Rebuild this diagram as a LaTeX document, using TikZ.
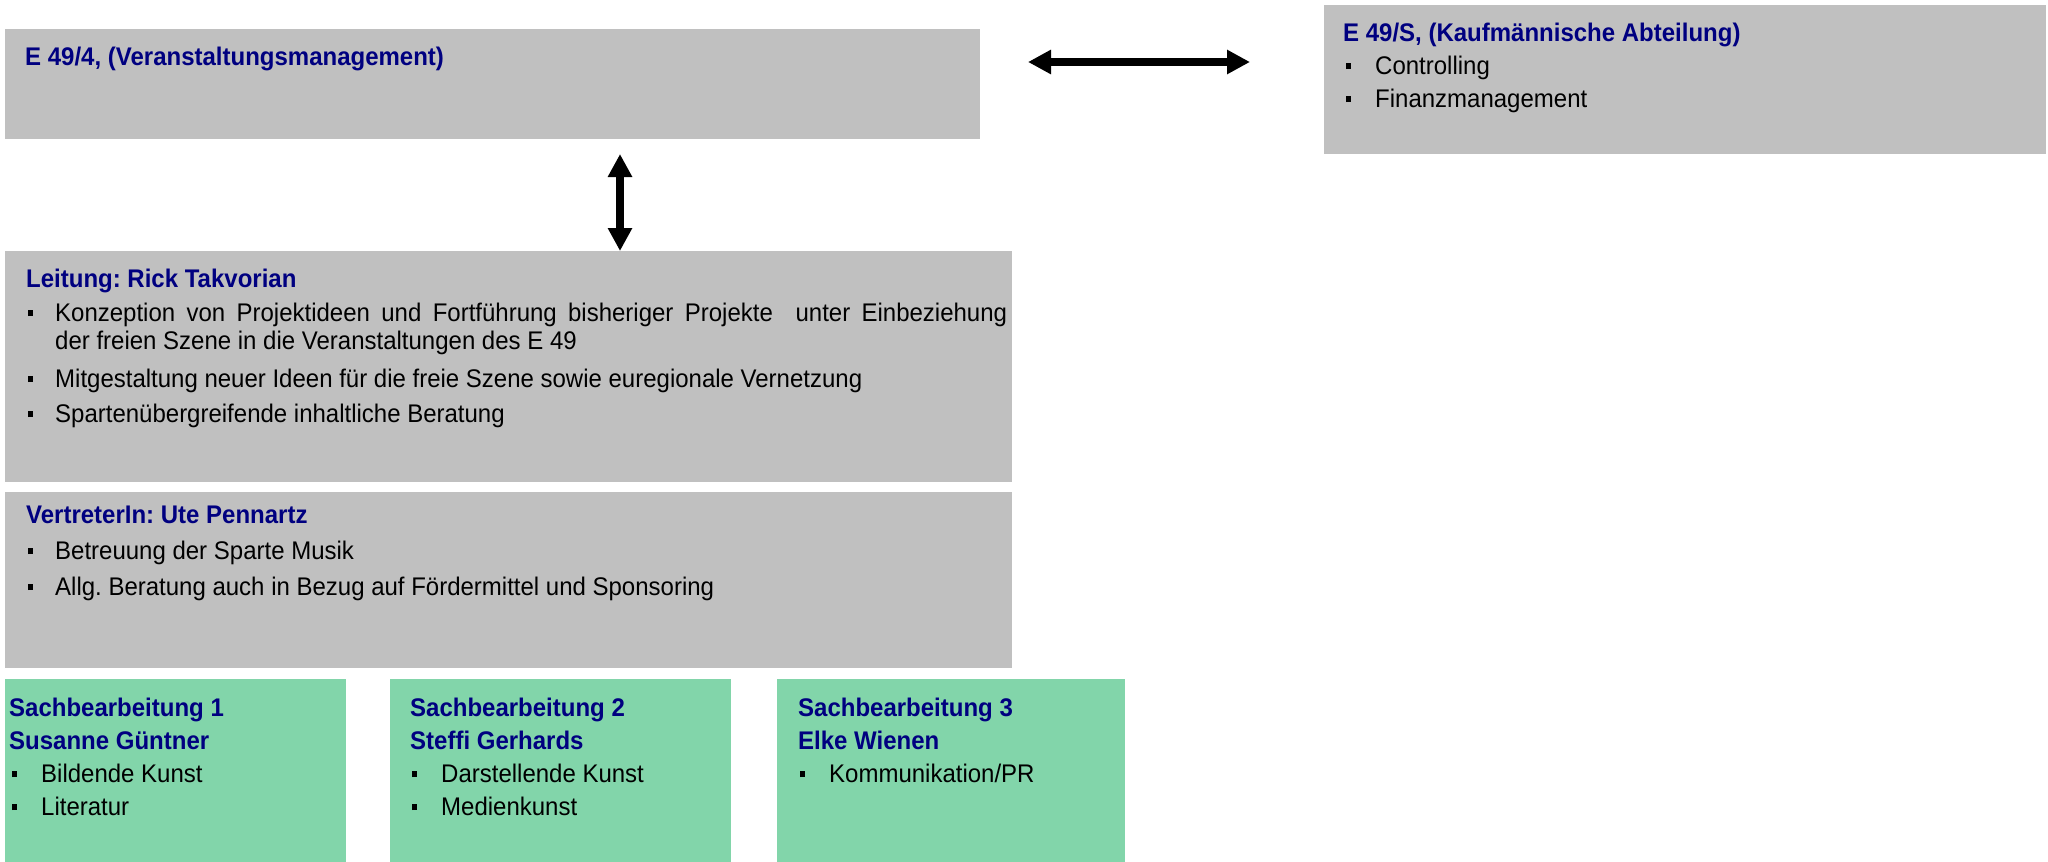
\documentclass[tikz,border=0pt]{standalone}
\usepackage{fontspec}
\setmainfont[FakeStretch=0.941]{Liberation Sans}
\usetikzlibrary{arrows.meta}
\definecolor{boxgray}{RGB}{192,192,192}
\definecolor{boxgreen}{RGB}{130,213,170}
\definecolor{titleblue}{RGB}{0,0,128}
\newcommand\bul{\rule[5pt]{5pt}{6pt}}
\frenchspacing
\begin{document}
\begin{tikzpicture}[x=1pt,y=-1pt,
  box/.style={rectangle,inner sep=0pt,outer sep=0pt,anchor=north west,draw=none},
  graybox/.style={box,fill=boxgray},
  greenbox/.style={box,fill=boxgreen},
  ttl/.style={anchor=base west,inner sep=0pt,font=\fontsize{25.5}{28}\selectfont\bfseries,text=titleblue},
  txt/.style={anchor=base west,inner sep=0pt,font=\fontsize{25.5}{28}\selectfont},
  bigarrow/.style={line width=8pt,{Triangle[length=23pt,width=23pt]}-{Triangle[length=23pt,width=23pt]}}
]
\useasboundingbox (0,0) rectangle (2048,862);

% boxes
\node[graybox,minimum width=975pt,minimum height=110pt] (A) at (5,29) {};
\node[graybox,minimum width=722pt,minimum height=149pt] (S) at (1324,5) {};
\node[graybox,minimum width=1007pt,minimum height=231pt] (L) at (5,251) {};
\node[graybox,minimum width=1007pt,minimum height=176pt] (V) at (5,492) {};
\node[greenbox,minimum width=341pt,minimum height=183pt] (G1) at (5,679) {};
\node[greenbox,minimum width=341pt,minimum height=183pt] (G2) at (390,679) {};
\node[greenbox,minimum width=348pt,minimum height=183pt] (G3) at (777,679) {};

% arrows
\coordinate (h1) at (1028,62);
\coordinate (h2) at (1250,62);
\draw[bigarrow] (h1) -- (h2);
\coordinate (v1) at (620,154);
\draw[bigarrow] (v1) -- (v1 |- L.north);

% E 49/4
\node[ttl] (At) at (25,65) {E 49/4, (Veranstaltungsmanagement)};

% E 49/S
\node[ttl] (St) at (1343,41) {E 49/S, (Kaufmännische Abteilung)};
\node[txt] (Sb1) at (1346,74) {\bul};
\node[txt] (Si1) at (1375,74) {Controlling};
\node[txt] (Sb2) at (1346,107) {\bul};
\node[txt] (Si2) at (1375,107) {Finanzmanagement};

% Leitung
\node[ttl] (Lt) at (26,287) {Leitung: Rick Takvorian};
\node[txt] (Lb1) at (28,321) {\bul};
\node[txt] (Li1) at (55,321) {\makebox[952pt][s]{Konzeption von Projektideen und Fortführung bisheriger Projekte\ \ unter Einbeziehung}};
\node[txt] (Li1b) at (55,349) {der freien Szene in die Veranstaltungen des E 49};
\node[txt] (Lb2) at (28,387) {\bul};
\node[txt] (Li2) at (55,387) {Mitgestaltung neuer Ideen für die freie Szene sowie euregionale Vernetzung};
\node[txt] (Lb3) at (28,422) {\bul};
\node[txt] (Li3) at (55,422) {Spartenübergreifende inhaltliche Beratung};

% Vertreter
\node[ttl] (Vt) at (26,523) {VertreterIn: Ute Pennartz};
\node[txt] (Vb1) at (28,559) {\bul};
\node[txt] (Vi1) at (55,559) {Betreuung der Sparte Musik};
\node[txt] (Vb2) at (28,595) {\bul};
\node[txt] (Vi2) at (55,595) {Allg. Beratung auch in Bezug auf Fördermittel und Sponsoring};

% Sachbearbeitung 1
\node[ttl] (G1t1) at (9,716) {Sachbearbeitung 1};
\node[ttl] (G1t2) at (9,749) {Susanne Güntner};
\node[txt] (G1b1) at (12,782) {\bul};
\node[txt] (G1i1) at (41,782) {Bildende Kunst};
\node[txt] (G1b2) at (12,815) {\bul};
\node[txt] (G1i2) at (41,815) {Literatur};

% Sachbearbeitung 2
\node[ttl] (G2t1) at (410,716) {Sachbearbeitung 2};
\node[ttl] (G2t2) at (410,749) {Steffi Gerhards};
\node[txt] (G2b1) at (412,782) {\bul};
\node[txt] (G2i1) at (441,782) {Darstellende Kunst};
\node[txt] (G2b2) at (412,815) {\bul};
\node[txt] (G2i2) at (441,815) {Medienkunst};

% Sachbearbeitung 3
\node[ttl] (G3t1) at (798,716) {Sachbearbeitung 3};
\node[ttl] (G3t2) at (798,749) {Elke Wienen};
\node[txt] (G3b1) at (800,782) {\bul};
\node[txt] (G3i1) at (829,782) {Kommunikation/PR};
\end{tikzpicture}
\end{document}
